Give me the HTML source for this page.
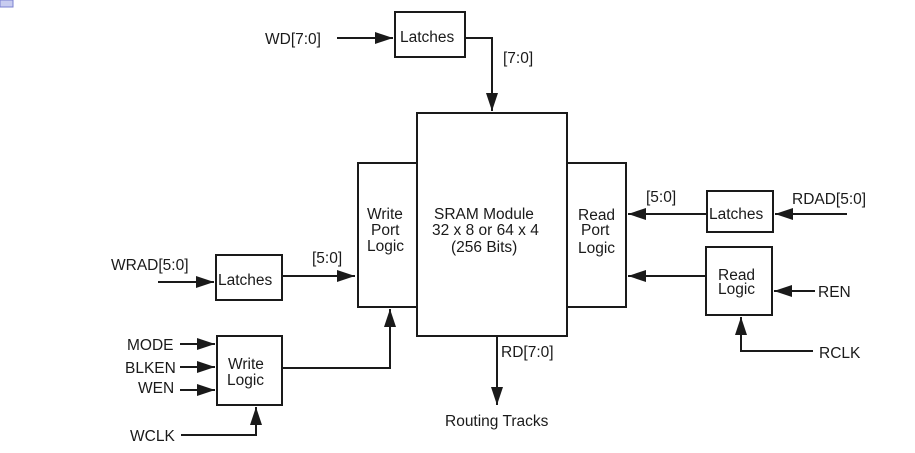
<!DOCTYPE html>
<html><head><style>
html,body{margin:0;padding:0;background:#fff;}
svg{display:block;}
text{font-family:"Liberation Sans",sans-serif;font-size:15.5px;fill:#1a1a1a;}
</style></head><body>
<svg width="915" height="453" viewBox="0 0 915 453" xmlns="http://www.w3.org/2000/svg">
<defs>
<marker id="a" markerWidth="10" markerHeight="8" refX="10" refY="4" orient="auto" markerUnits="userSpaceOnUse" viewBox="0 0 10 8">
<path d="M0,0 L10,4 L0,8 z" fill="#1a1a1a"/></marker>
<marker id="b" markerWidth="18" markerHeight="12" refX="18" refY="6" orient="auto" markerUnits="userSpaceOnUse" viewBox="0 0 18 12">
<path d="M0,0 L18,6 L0,12 z" fill="#1a1a1a"/></marker>
</defs>
<rect x="0" y="0" width="13" height="7" fill="#c8ccf0" stroke="#7a80d0"/>
<g fill="none" stroke="#1a1a1a" stroke-width="2">
<rect x="395" y="12" width="70" height="45"/>
<rect x="417" y="113" width="150" height="223"/>
<rect x="358" y="163" width="59" height="144"/>
<rect x="567" y="163" width="59" height="144"/>
<rect x="216" y="255" width="66" height="45"/>
<rect x="217" y="336" width="65" height="69"/>
<rect x="707" y="191" width="66" height="41"/>
<rect x="706" y="247" width="66" height="68"/>
<line x1="337" y1="38" x2="393" y2="38" marker-end="url(#b)"/>
<polyline points="465,38 492,38 492,111" marker-end="url(#b)"/>
<line x1="158" y1="282" x2="214" y2="282" marker-end="url(#b)"/>
<line x1="282" y1="276" x2="355" y2="276" marker-end="url(#b)"/>
<line x1="180" y1="344" x2="215" y2="344" marker-end="url(#b)"/>
<line x1="180" y1="367" x2="215" y2="367" marker-end="url(#b)"/>
<line x1="180" y1="390" x2="215" y2="390" marker-end="url(#b)"/>
<polyline points="282,368 390,368 390,309" marker-end="url(#b)"/>
<polyline points="181,435 256,435 256,407" marker-end="url(#b)"/>
<line x1="497" y1="336" x2="497" y2="405" marker-end="url(#b)"/>
<line x1="707" y1="214" x2="628" y2="214" marker-end="url(#b)"/>
<line x1="847" y1="214" x2="775" y2="214" marker-end="url(#b)"/>
<line x1="706" y1="276" x2="628" y2="276" marker-end="url(#b)"/>
<line x1="815" y1="291" x2="774" y2="291" marker-end="url(#b)"/>
<polyline points="813,351 741,351 741,317" marker-end="url(#b)"/>
</g>
<text x="265" y="44">WD[7:0]</text>
<text x="400" y="42">Latches</text>
<text x="503" y="63">[7:0]</text>
<text x="434" y="219">SRAM Module</text>
<text x="432" y="235">32 x 8 or 64 x 4</text>
<text x="451" y="252">(256 Bits)</text>
<text x="367" y="219">Write</text>
<text x="371" y="235">Port</text>
<text x="367" y="251">Logic</text>
<text x="578" y="220">Read</text>
<text x="581" y="235">Port</text>
<text x="578" y="253">Logic</text>
<text x="111" y="270">WRAD[5:0]</text>
<text x="218" y="285">Latches</text>
<text x="312" y="263">[5:0]</text>
<text x="127" y="350">MODE</text>
<text x="125" y="373">BLKEN</text>
<text x="138" y="393">WEN</text>
<text x="228" y="369">Write</text>
<text x="227" y="385">Logic</text>
<text x="130" y="441">WCLK</text>
<text x="501" y="357">RD[7:0]</text>
<text x="445" y="426">Routing Tracks</text>
<text x="646" y="202">[5:0]</text>
<text x="709" y="219">Latches</text>
<text x="792" y="204">RDAD[5:0]</text>
<text x="718" y="280">Read</text>
<text x="718" y="294">Logic</text>
<text x="818" y="297">REN</text>
<text x="819" y="358">RCLK</text>
</svg>
</body></html>
